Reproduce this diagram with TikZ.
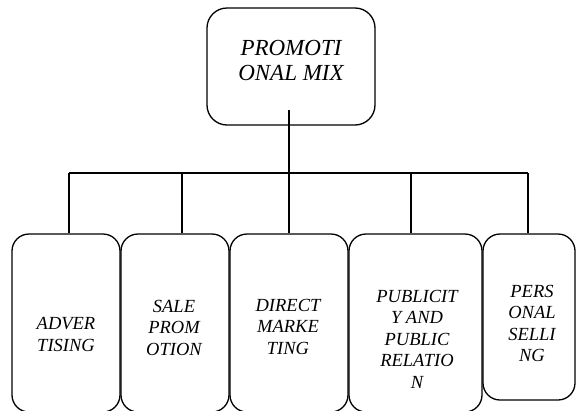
\documentclass[tikz,border=0pt]{standalone}
\usepackage{fontspec}
\setmainfont{Liberation Serif}
\begin{document}
\begin{tikzpicture}[x=1pt,y=-1pt,
  box/.style={draw,line width=1.3pt,rounded corners=17pt,inner sep=0pt},
  topbox/.style={draw,line width=1.3pt,rounded corners=20pt,inner sep=0pt},
  lbl/.style={inner sep=0pt,align=center,font=\fontsize{18.5}{21.5}\selectfont\itshape},
  toplbl/.style={inner sep=0pt,align=center,font=\fontsize{23}{25}\selectfont\itshape},
  conn/.style={line width=1.3pt}]
\useasboundingbox (0,0) rectangle (576,410);
% top box
\node[topbox,minimum width=168pt,minimum height=117pt] (top) at (291,66.5) {};
\node[toplbl] (toptext) at (291,60.5) {PROMOTI\\ONAL MIX};
% bottom boxes
\node[box,minimum width=108pt,minimum height=178pt] (b1) at (66,323) {};
\node[box,minimum width=108pt,minimum height=178pt] (b2) at (175,323) {};
\node[box,minimum width=118pt,minimum height=178pt] (b3) at (289,323) {};
\node[box,minimum width=133pt,minimum height=178pt] (b4) at (415.5,323) {};
\node[box,minimum width=92pt,minimum height=166pt] (b5) at (529,317) {};
\node[lbl] (t1) at (66,334.5) {ADVER\\TISING};
\node[lbl] (t2) at (174,327.5) {SALE\\PROM\\OTION};
\node[lbl] (t3) at (288,326.5) {DIRECT\\MARKE\\TING};
\node[lbl] (t4) at (417,339) {PUBLICIT\\Y AND\\PUBLIC\\RELATIO\\N};
\node[lbl] (t5) at (532,323.5) {PERS\\ONAL\\SELLI\\NG};
% connectors
\coordinate (trunk) at (289,110);
\coordinate (bus) at (289,173);
\coordinate (busL) at (69,173);
\coordinate (busR) at (528,173);
\draw[conn] (trunk) -- (bus);
\draw[conn] (busL) -- (busR);
\draw[conn] (busL) -- (busL |- b1.north);
\draw[conn] (bus -| 182,0) -- (182,0 |- b2.north);
\draw[conn] (bus) -- (bus |- b3.north);
\draw[conn] (bus -| 411,0) -- (411,0 |- b4.north);
\draw[conn] (busR) -- (busR |- b5.north);
\end{tikzpicture}
\end{document}
